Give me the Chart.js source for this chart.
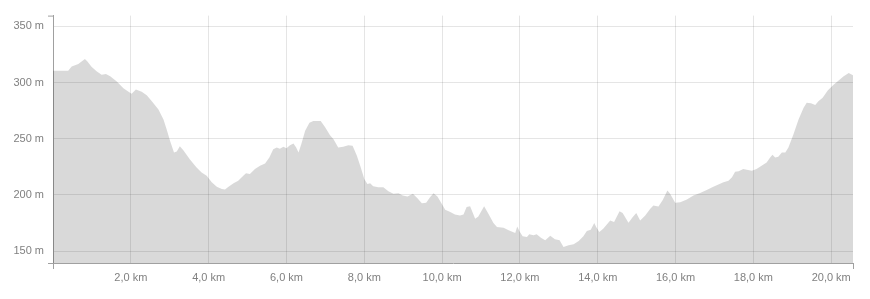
<!DOCTYPE html>
<html>
<head>
<meta charset="utf-8">
<script src="https://cdn.jsdelivr.net/npm/chart.js@4.4.1/dist/chart.umd.min.js"></script>
<style>
  body { margin: 0; background: #fff; }
  #wrap { width: 870px; height: 299px; }
</style>
</head>
<body>
<div id="wrap"><canvas id="profile"></canvas></div>
<script>
// distance along the route (km) and elevation (m)
const distances = [
  0.00, 0.39, 0.48, 0.65, 0.82, 0.88, 0.99, 1.12, 1.25, 1.36, 1.47, 1.64, 1.81, 1.98, 2.02,
  2.13, 2.28, 2.41, 2.54, 2.71, 2.84, 2.92, 3.01, 3.11, 3.18, 3.26, 3.35, 3.52, 3.69, 3.82,
  3.95, 4.08, 4.21, 4.34, 4.42, 4.51, 4.64, 4.76, 4.89, 4.96, 5.06, 5.19, 5.32, 5.45, 5.56,
  5.66, 5.75, 5.83, 5.92, 6.00, 6.09, 6.18, 6.25, 6.31, 6.38, 6.48, 6.59, 6.69, 6.88, 6.99,
  7.12, 7.21, 7.33, 7.46, 7.59, 7.70, 7.81, 7.91, 8.00, 8.08, 8.15, 8.23, 8.36, 8.49, 8.62,
  8.75, 8.88, 8.99, 9.11, 9.25, 9.36, 9.48, 9.59, 9.69, 9.78, 9.88, 9.99, 10.08, 10.21, 10.33,
  10.46, 10.55, 10.63, 10.72, 10.85, 10.93, 11.08, 11.19, 11.32, 11.41, 11.58, 11.71, 11.88, 11.93, 12.00,
  12.07, 12.18, 12.24, 12.35, 12.43, 12.54, 12.65, 12.78, 12.90, 13.02, 13.12, 13.25, 13.38, 13.51, 13.63,
  13.72, 13.82, 13.91, 13.96, 14.04, 14.14, 14.32, 14.42, 14.56, 14.64, 14.79, 14.90, 14.99, 15.09, 15.22,
  15.35, 15.43, 15.56, 15.67, 15.79, 15.86, 15.99, 16.12, 16.29, 16.46, 16.63, 16.80, 16.97, 17.10, 17.23,
  17.36, 17.45, 17.53, 17.62, 17.74, 17.83, 17.96, 18.08, 18.21, 18.34, 18.43, 18.49, 18.56, 18.64, 18.73,
  18.82, 18.90, 19.03, 19.16, 19.29, 19.37, 19.48, 19.59, 19.67, 19.78, 19.91, 20.06, 20.19, 20.32, 20.45,
  20.56
];
const elevations = [
  310.5, 310.5, 314.3, 316.4, 321, 319, 314, 310, 307, 307.5, 305.5, 301, 295, 291, 290,
  293.7, 291.7, 288.7, 283.4, 276, 267.2, 258.4, 248, 237.8, 238.6, 243.4, 239.8, 231.5, 224.5, 220,
  217, 211.3, 207.4, 205.4, 204.8, 207.4, 210.4, 212.7, 217.1, 219.2, 218.6, 223, 226, 228, 233.3,
  240.7, 242.2, 241, 242.8, 241.6, 244.2, 245.7, 242.2, 237.8, 245, 257, 264.3, 265.7, 265.7, 260.4,
  253, 249.5, 242.2, 242.8, 244.2, 243.7, 234.8, 224.5, 214.2, 209.8, 210.4, 207.7, 206.8, 206.8, 203.3,
  201, 201.5, 199.5, 198.6, 201, 197.4, 192.7, 193, 198, 201.5, 198.6, 192.1, 186.8, 184.8, 182.7,
  181.8, 182.7, 189.2, 190, 178.9, 180.9, 190, 183.3, 175, 171.5, 170.9, 168.6, 166.2, 172, 167,
  163.3, 162.7, 165, 164.1, 165, 162, 159.7, 163.8, 160.6, 159.7, 153.8, 155.3, 156.2, 159.1, 163.3,
  168, 169.1, 175, 171.5, 167, 170, 177.4, 175.9, 185.6, 183.9, 175.3, 180.3, 183.9, 177.4, 181.8,
  187.7, 190.6, 189.8, 195.6, 203.9, 201, 193, 193.6, 195.9, 199.5, 201.8, 204.5, 207.4, 209.2, 211.3,
  212.7, 215.7, 220.7, 221, 223, 222.5, 221.6, 223, 226, 228.9, 233.3, 235.7, 233.3, 233.9, 237.8,
  237.8, 242.2, 254, 267.2, 277.5, 281.9, 281.6, 279.9, 283.4, 286.4, 292.8, 298.1, 301.7, 305.5, 308.4,
  306.4
];

// tick labels
const xTicks = [2, 4, 6, 8, 10, 12, 14, 16, 18, 20];
const yTicks = [150, 200, 250, 300, 350];

const tickFont = { family: "'Liberation Sans', Arial, sans-serif", size: 11 };
const tickColor = "#808080";
const axisColor = "#a0a0a0";

/* small marks at both ends of each axis line */
const endTicks = {
  id: "endTicks",
  afterDraw(chart) {
    const a = chart.chartArea;
    const ctx = chart.ctx;
    ctx.save();
    ctx.strokeStyle = axisColor;
    ctx.lineWidth = 1;
    ctx.beginPath();
    ctx.moveTo(a.left - 5, a.top + 0.5); ctx.lineTo(a.left, a.top + 0.5);
    ctx.moveTo(a.left - 5, a.bottom + 0.5); ctx.lineTo(a.left, a.bottom + 0.5);
    ctx.moveTo(a.left + 0.5, a.bottom); ctx.lineTo(a.left + 0.5, a.bottom + 6);
    ctx.moveTo(a.right + 0.5, a.bottom); ctx.lineTo(a.right + 0.5, a.bottom + 6);
    ctx.stroke();
    ctx.restore();
  }
};

const ctx = document.getElementById("profile").getContext("2d");

new Chart(ctx, {
  type: "line",
  data: {
    datasets: [{
      data: distances.map((d, i) => ({ x: d, y: elevations[i] })),
      fill: "start",
      backgroundColor: "rgba(0,0,0,0.15)",
      borderWidth: 0,
      pointRadius: 0,
      tension: 0
    }]
  },
  options: {
    responsive: true,
    maintainAspectRatio: false,
    animation: false,
    layout: { padding: { top: 13, right: 17, left: 0, bottom: 0 } },
    plugins: { legend: { display: false }, tooltip: { enabled: false } },
    scales: {
      x: {
        type: "linear",
        min: 0,
        max: 20.56,
        afterBuildTicks: s => { s.ticks = xTicks.map(v => ({ value: v })); },
        afterFit: s => { s.height = 36; },
        grid: { color: "rgba(0,0,0,0.1)", drawTicks: false },
        border: { color: axisColor },
        ticks: {
          padding: 8,
          font: tickFont,
          color: tickColor,
          maxRotation: 0,
          autoSkip: false,
          callback: v => v.toFixed(1).replace(".", ",") + " km"
        }
      },
      y: {
        min: 139.5,
        max: 359.5,
        afterBuildTicks: s => { s.ticks = yTicks.map(v => ({ value: v })); },
        afterFit: s => { s.width = 53; },
        grid: { color: "rgba(0,0,0,0.1)", drawTicks: false },
        border: { color: axisColor },
        ticks: {
          padding: 9,
          font: tickFont,
          color: tickColor,
          callback: v => v + " m"
        }
      }
    }
  },
  plugins: [endTicks]
});
</script>
</body>
</html>
